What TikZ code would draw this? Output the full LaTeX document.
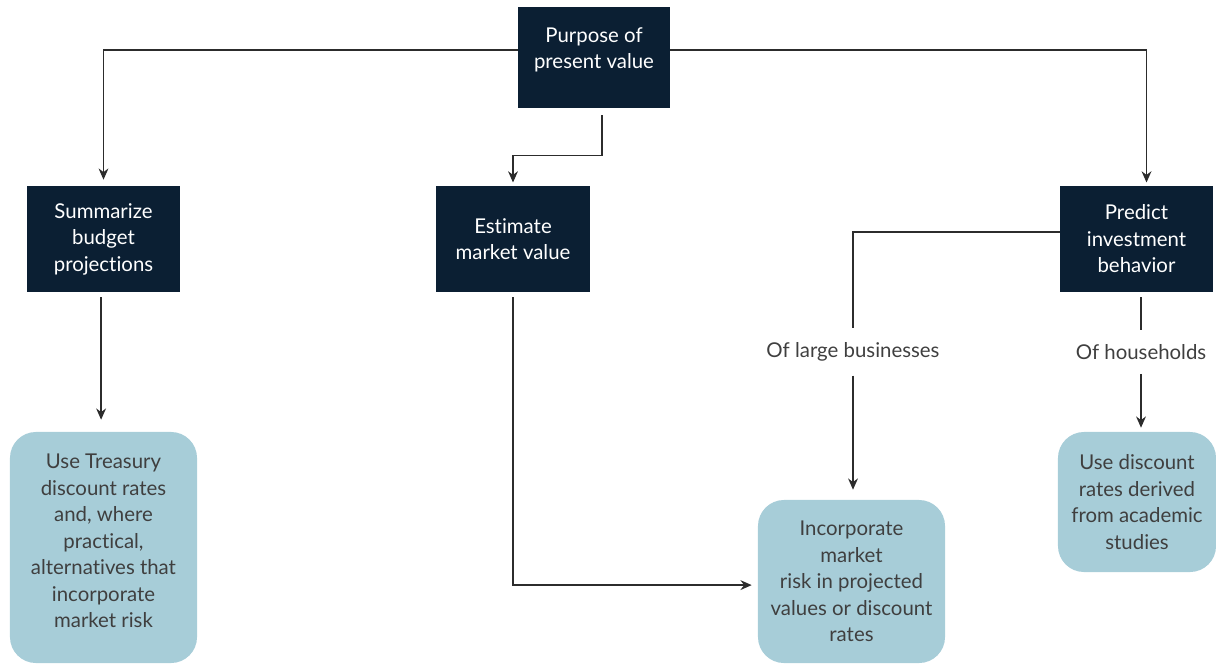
\documentclass[tikz,border=0pt]{standalone}
\usepackage{fontspec}
\setmainfont{Lato}[Ligatures=NoCommon]
\usepackage{xcolor}
\usetikzlibrary{arrows.meta}

\definecolor{navy}{HTML}{0B1F33}
\definecolor{paleblue}{HTML}{A7CDD8}
\definecolor{inkgray}{HTML}{3F3F3F}

\tikzset{
  darkbox/.style={draw=none, rectangle, fill=navy, text=white, align=center, minimum width=3.825cm, minimum height=2.65cm, inner sep=0pt},
  softbox/.style={draw=none, rectangle, rounded corners=0.65cm, fill=paleblue, text=inkgray, align=center, minimum width=4.675cm, inner sep=0pt},
  branch/.style={text=inkgray, inner xsep=2pt, inner ysep=0.35cm},
  link/.style={draw=inkgray!70!black, line width=0.9pt, -{Stealth[length=8pt, width=7pt]}},
  plain/.style={draw=inkgray!70!black, line width=0.9pt}
}

\begin{document}
\begin{tikzpicture}[x=0.025cm, y=-0.025cm, every node/.style={font=\fontsize{14.5}{18.8}\selectfont}]
\useasboundingbox (0,0) rectangle (1216,664);

% Top box
\node[darkbox, minimum width=3.8cm, minimum height=2.525cm] (purpose) at (594,57.5) {};
\node[text=white, align=center, inner sep=0pt] (purposetxt) at (594,50) {Purpose of\\present value};

% Second row
\node[darkbox] (summ) at (103.5,239) {Summarize\\budget\\projections};
\node[darkbox] (est) at (513,239) {Estimate\\market value};
\node[darkbox] (pred) at (1136.5,239) {Predict\\investment\\behavior};

% Branch labels
\node[branch] (lbiz) at (853,352) {Of large businesses};
\node[branch] (hh) at (1141,352) {Of households};

% Result boxes
\node[softbox, minimum height=5.775cm] (treas) at (103.5,547.5) {};
\node[text=inkgray, align=center, inner sep=0pt] (treastxt) at (103.5,541) {Use Treasury\\discount rates\\and, where\\practical,\\alternatives that\\incorporate\\market risk};
\node[softbox, minimum height=4.075cm] (incorp) at (851.5,581.5) {Incorporate\\market\\risk in projected\\values or discount\\rates};
\node[softbox, minimum width=3.95cm, minimum height=3.5cm] (disc) at (1137,502) {Use discount\\rates derived\\from academic\\studies};

% Arrows
\draw[link, shorten >=0.15cm] (purposetxt -| purpose.west) -| (summ.north);
\draw[link, shorten >=0.08cm] (purposetxt -| purpose.east) -| ([xshift=0.25cm]pred.north);
\draw[link, shorten >=0.08cm] ([xshift=0.2cm, yshift=-0.175cm]purpose.south) -- ++(0,40) -| (est.north);
\draw[link, shorten <=0.125cm, shorten >=0.3cm] ([xshift=-0.06cm]summ.south) -- ([xshift=-0.06cm]treas.north);
\draw[link, shorten <=0.125cm, shorten >=0.15cm] (est.south) |- ([yshift=-0.09cm]incorp.west);
\draw[plain] ([yshift=0.175cm]pred.west) -| (lbiz.north);
\draw[link, shorten >=0.25cm] (lbiz.south) -- (lbiz.south |- incorp.north);
\draw[plain, shorten <=0.125cm] (pred.south -| hh) -- (hh.north);
\draw[link, shorten >=0.1cm] (hh.south) -- (hh.south |- disc.north);
\end{tikzpicture}
\end{document}
